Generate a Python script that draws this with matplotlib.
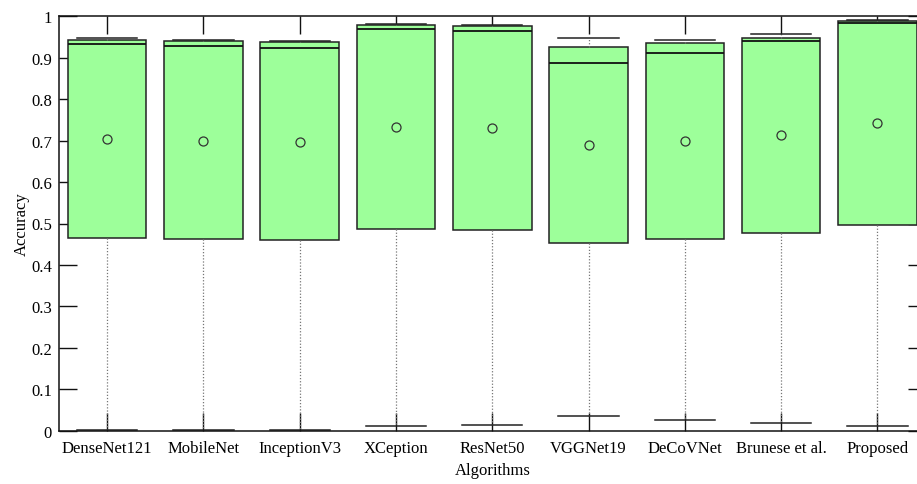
import matplotlib
matplotlib.use("Agg")
import matplotlib.pyplot as plt
from matplotlib.ticker import FuncFormatter

# Accuracy distribution per algorithm
algorithms = ["DenseNet121", "MobileNet", "InceptionV3", "XCeption", "ResNet50",
              "VGGNet19", "DeCoVNet", "Brunese et al.", "Proposed"]
whisker_low = [0.002, 0.002, 0.002, 0.012, 0.013, 0.035, 0.026, 0.018, 0.011]
q1 = [0.466, 0.463, 0.460, 0.487, 0.485, 0.452, 0.463, 0.478, 0.496]
median = [0.934, 0.928, 0.924, 0.969, 0.965, 0.887, 0.911, 0.940, 0.983]
q3 = [0.943, 0.940, 0.937, 0.980, 0.977, 0.925, 0.935, 0.948, 0.988]
whisker_high = [0.947, 0.942, 0.940, 0.981, 0.980, 0.948, 0.944, 0.957, 0.992]
mean = [0.704, 0.700, 0.697, 0.733, 0.730, 0.689, 0.698, 0.714, 0.742]
y_ticks = [0, 0.1, 0.2, 0.3, 0.4, 0.5, 0.6, 0.7, 0.8, 0.9, 1.0]

plt.rcParams["font.family"] = ["Liberation Serif", "DejaVu Serif"]

W, H, DPI = 917, 485, 100
fig = plt.figure(figsize=(W / DPI, H / DPI), dpi=DPI)
# axes frame runs slightly past the right edge of the canvas
left, right, bottom, top = 59, 925.6, 53.3, 467.7
ax = fig.add_axes([left / W, bottom / H, (right - left) / W, (top - bottom) / H])

stats = []
for name, lo, a, m, b, hi, mu in zip(algorithms, whisker_low, q1, median, q3,
                                     whisker_high, mean):
    stats.append(dict(label=name, whislo=lo, q1=a, med=m, q3=b, whishi=hi,
                      mean=mu, fliers=[]))

positions = list(range(1, len(algorithms) + 1))
ax.bxp(stats, positions=positions, widths=0.815, capwidths=0.625,
       patch_artist=True, showmeans=True, showfliers=False,
       boxprops=dict(facecolor="#9dff9a", edgecolor="#222222", linewidth=1.1),
       medianprops=dict(color="#111111", linewidth=1.3),
       whiskerprops=dict(color="#777777", linewidth=0.9, linestyle=(0, (1, 1.5))),
       capprops=dict(color="#222222", linewidth=1.1),
       meanprops=dict(marker="o", markerfacecolor="none", markeredgecolor="#333333",
                      markersize=6.5, markeredgewidth=0.9))

ax.set_xlim(0.5, 9.5)
ax.set_ylim(0, 1)
ax.set_xticks(positions)
ax.set_xticklabels(algorithms)
ax.set_yticks(y_ticks)
ax.yaxis.set_major_formatter(FuncFormatter(lambda v, p: f"{v:g}"))

ax.tick_params(axis="both", direction="in", length=13, width=1.0, color="#111111",
               labelsize=12, top=True, right=True)
ax.tick_params(axis="x", pad=7)
ax.tick_params(axis="y", pad=5)
for s in ax.spines.values():
    s.set_linewidth(1.1)
    s.set_color("#111111")

ax.set_xlabel("Algorithms", fontsize=12, labelpad=4)
ax.set_ylabel("Accuracy", fontsize=12, labelpad=1)

fig.savefig("out.png", dpi=DPI)
